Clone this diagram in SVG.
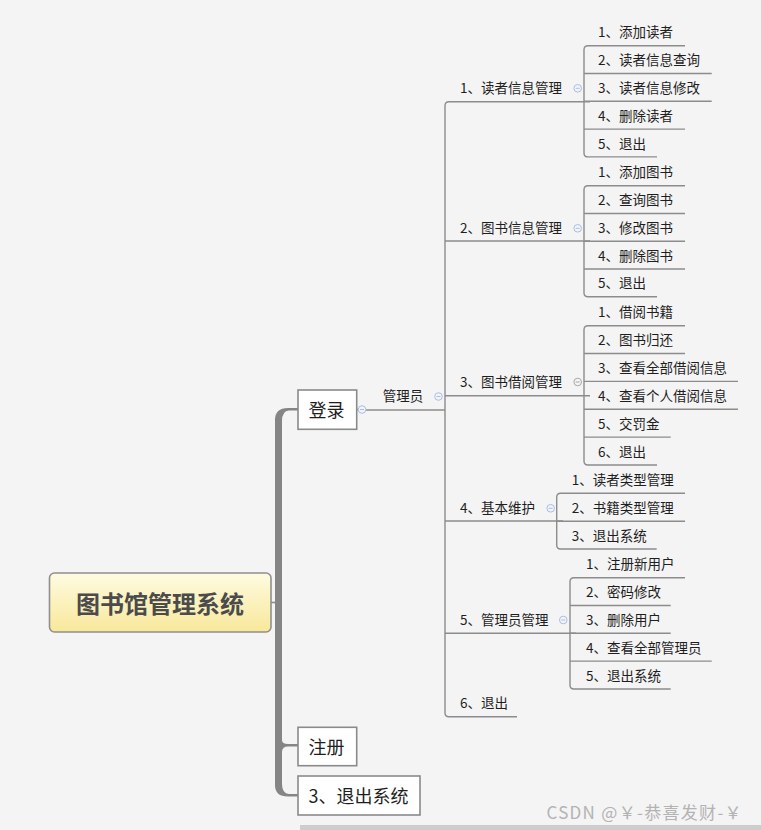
<svg xmlns="http://www.w3.org/2000/svg" width="761" height="830" viewBox="0 0 761 830">
<style>
.t{font-family:"Noto Sans CJK SC","Noto Sans",sans-serif;font-size:13.5px;fill:#1e1e1e;dominant-baseline:central}
.t1{font-family:"Noto Sans CJK SC","Noto Sans",sans-serif;font-size:18px;fill:#1e1e1e;dominant-baseline:central}
.ln{fill:none;stroke:#8c8c8c;stroke-width:1.4}
.box{fill:#ffffff;stroke:#8a8a8a;stroke-width:1.6}
.cb{fill:#f4f4f4;stroke:#a9bde8;stroke-width:1}
.cg{fill:#f4f4f4;stroke:#a8a8a8;stroke-width:1}
.cm{stroke:#a9bde8;stroke-width:1}
.cmg{stroke:#a8a8a8;stroke-width:1}
.trunk{fill:#858585}
</style>
<defs>
<linearGradient id="rg" x1="0" y1="0" x2="0" y2="1">
<stop offset="0" stop-color="#fefbe2"/>
<stop offset="1" stop-color="#f8e89a"/>
</linearGradient>
</defs>
<rect width="761" height="830" fill="#f4f4f4"/>
<rect x="300" y="825" width="461" height="5" fill="#cdcdcd"/>

<g id="connectors">
<line x1="271" y1="602.5" x2="276" y2="602.5" stroke="#8c8c8c" stroke-width="1.6"/>
<rect class="trunk" x="275" y="418" width="7" height="368"/>
<path class="trunk" d="M275 420 Q275 408 288 408 H298 V410.5 H289 Q282 411 282 421 Z"/>
<path class="trunk" d="M275 785 Q275 796.5 288 796.5 H298 V794 H289 Q282 793.5 282 784 Z"/>
<path class="trunk" d="M282 740 Q282 744 288 744 H298 V746.5 H288 Q282 746.5 282 752 Z"/>
<line class="ln" x1="357" y1="409.5" x2="358" y2="409.5"/>
<line class="ln" x1="366" y1="410" x2="445" y2="410"/>
<path class="ln" d="M590 101.7 H449 Q445 101.7 445 105.7 V712.7 Q445 716.7 449 716.7 H517"/>
<line class="ln" x1="445" y1="241" x2="590" y2="241"/>
<line class="ln" x1="445" y1="395.7" x2="590" y2="395.7"/>
<line class="ln" x1="445" y1="521" x2="563" y2="521"/>
<line class="ln" x1="445" y1="633.3" x2="576" y2="633.3"/>
<path class="ln" d="M685 45.7 H588 Q584 45.7 584 49.7 V152.9 Q584 156.9 588 156.9 H657"/>
<line class="ln" x1="584" y1="73.5" x2="711.7" y2="73.5"/>
<line class="ln" x1="584" y1="101.3" x2="711.7" y2="101.3"/>
<line class="ln" x1="584" y1="129.1" x2="685" y2="129.1"/>
<path class="ln" d="M685 185.7 H588 Q584 185.7 584 189.7 V292.7 Q584 296.7 588 296.7 H657"/>
<line class="ln" x1="584" y1="213.5" x2="685" y2="213.5"/>
<line class="ln" x1="584" y1="241.2" x2="685" y2="241.2"/>
<line class="ln" x1="584" y1="269" x2="685" y2="269"/>
<path class="ln" d="M685 325.7 H588 Q584 325.7 584 329.7 V461 Q584 465 588 465 H657"/>
<line class="ln" x1="584" y1="353.5" x2="685" y2="353.5"/>
<line class="ln" x1="584" y1="381.4" x2="738" y2="381.4"/>
<line class="ln" x1="584" y1="409.3" x2="738" y2="409.3"/>
<line class="ln" x1="584" y1="437.1" x2="670.7" y2="437.1"/>
<path class="ln" d="M685 493.3 H560.7 Q556.7 493.3 556.7 497.3 V545 Q556.7 549 560.7 549 H656.7"/>
<line class="ln" x1="556.7" y1="521.2" x2="685" y2="521.2"/>
<path class="ln" d="M685 577.7 H574 Q570 577.7 570 581.7 V685 Q570 689 574 689 H670.7"/>
<line class="ln" x1="570" y1="605.5" x2="670.7" y2="605.5"/>
<line class="ln" x1="570" y1="633.3" x2="670.7" y2="633.3"/>
<line class="ln" x1="570" y1="661.1" x2="711.7" y2="661.1"/>
<circle class="cb" cx="362" cy="409.5" r="3.8"/><line class="cm" x1="360" y1="409.5" x2="364" y2="409.5"/>
<circle class="cb" cx="438.5" cy="396.5" r="3.8"/><line class="cm" x1="436.5" y1="396.5" x2="440.5" y2="396.5"/>
<circle class="cb" cx="577.7" cy="88.3" r="3.8"/><line class="cm" x1="575.7" y1="88.3" x2="579.7" y2="88.3"/>
<circle class="cb" cx="577.7" cy="228.3" r="3.8"/><line class="cm" x1="575.7" y1="228.3" x2="579.7" y2="228.3"/>
<circle class="cg" cx="577.7" cy="382" r="3.8"/><line class="cmg" x1="575.7" y1="382" x2="579.7" y2="382"/>
<circle class="cb" cx="550.7" cy="508.3" r="3.8"/><line class="cm" x1="548.7" y1="508.3" x2="552.7" y2="508.3"/>
<circle class="cb" cx="563.3" cy="620" r="3.8"/><line class="cm" x1="561.3" y1="620" x2="565.3" y2="620"/>
</g>

<g id="root">
<rect x="49.5" y="573" width="221.5" height="59" rx="5" fill="url(#rg)" stroke="#8f8f8f" stroke-width="1.6"/>
<text x="160" y="602.5" text-anchor="middle" style="font-family:'Noto Sans CJK SC','Noto Sans',sans-serif;font-size:24px;font-weight:bold;fill:#4b4b4b;dominant-baseline:central">图书馆管理系统</text>
</g>
<g id="login">
<rect class="box" x="298" y="390" width="58.7" height="39.3"/>
<text class="t1" x="308.5" y="409">登录</text>
</g>
<g id="register">
<rect class="box" x="298" y="727.3" width="58.7" height="38.4"/>
<text class="t1" x="308.5" y="745.5">注册</text>
</g>
<g id="exit-system">
<rect class="box" x="298" y="776" width="122" height="39"/>
<text class="t1" x="308.5" y="794.5">3、退出系统</text>
</g>
<g id="admin"><text class="t" x="382.7" y="395">管理员</text></g>

<g id="reader-mgmt" transform="translate(0,-1)">
<text class="t" x="460" y="88.4">1、读者信息管理</text>
<text class="t" x="598" y="32.4">1、添加读者</text>
<text class="t" x="598" y="60.2">2、读者信息查询</text>
<text class="t" x="598" y="88">3、读者信息修改</text>
<text class="t" x="598" y="115.8">4、删除读者</text>
<text class="t" x="598" y="143.6">5、退出</text>
</g>
<g id="book-mgmt" transform="translate(0,-1)">
<text class="t" x="460" y="227.7">2、图书信息管理</text>
<text class="t" x="598" y="172.4">1、添加图书</text>
<text class="t" x="598" y="200.2">2、查询图书</text>
<text class="t" x="598" y="227.9">3、修改图书</text>
<text class="t" x="598" y="255.7">4、删除图书</text>
<text class="t" x="598" y="283.4">5、退出</text>
</g>
<g id="borrow-mgmt" transform="translate(0,-1)">
<text class="t" x="460" y="382.4">3、图书借阅管理</text>
<text class="t" x="598" y="312.4">1、借阅书籍</text>
<text class="t" x="598" y="340.2">2、图书归还</text>
<text class="t" x="598" y="368.1">3、查看全部借阅信息</text>
<text class="t" x="598" y="396">4、查看个人借阅信息</text>
<text class="t" x="598" y="423.8">5、交罚金</text>
<text class="t" x="598" y="451.7">6、退出</text>
</g>
<g id="maintenance" transform="translate(0,-1)">
<text class="t" x="460" y="507.7">4、基本维护</text>
<text class="t" x="571.7" y="480">1、读者类型管理</text>
<text class="t" x="571.7" y="507.9">2、书籍类型管理</text>
<text class="t" x="571.7" y="535.7">3、退出系统</text>
</g>
<g id="admin-mgmt" transform="translate(0,-1)">
<text class="t" x="460" y="620">5、管理员管理</text>
<text class="t" x="586" y="564.4">1、注册新用户</text>
<text class="t" x="586" y="592.2">2、密码修改</text>
<text class="t" x="586" y="620">3、删除用户</text>
<text class="t" x="586" y="647.8">4、查看全部管理员</text>
<text class="t" x="586" y="675.7">5、退出系统</text>
</g>
<g id="logout" transform="translate(0,-1)"><text class="t" x="460" y="703.4">6、退出</text></g>

<text x="546.5" y="811" style="font-family:'Noto Sans CJK SC','Noto Sans',sans-serif;font-size:17px;letter-spacing:1.3px;fill:#b3b3b3;dominant-baseline:central">CSDN @￥-恭喜发财-￥</text>
</svg>
